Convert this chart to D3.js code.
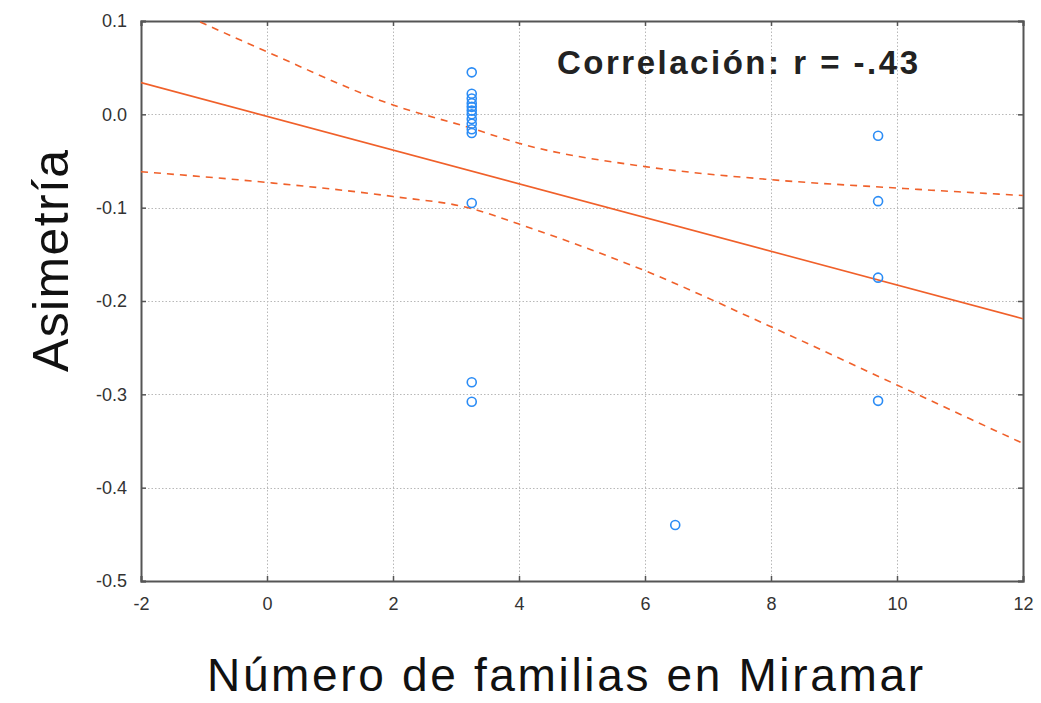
<!DOCTYPE html>
<html><head><meta charset="utf-8">
<script src="https://cdn.jsdelivr.net/npm/d3@7"></script>
<style>body{margin:0;background:#fff}svg{display:block}</style>
</head><body><svg id="c" width="1041" height="703"></svg>
<script>
// ---- data ----
const xTicks = [-2, 0, 2, 4, 6, 8, 10, 12];
const yTicks = [0.1, 0.0, -0.1, -0.2, -0.3, -0.4, -0.5];
const pointX = [3.25, 3.25, 3.25, 3.25, 3.25, 3.25, 3.25, 3.25, 3.25, 3.25, 3.25, 3.25, 3.25, 3.25,
                6.48, 9.70, 9.70, 9.70, 9.70];
const pointY = [0.045, 0.022, 0.017, 0.012, 0.008, 0.004, 0.0, -0.005, -0.010, -0.016, -0.020,
                -0.095, -0.287, -0.308,
                -0.440, -0.023, -0.093, -0.175, -0.307];
const fitX = [-2, 12];
const fitY = [0.034, -0.219];
const bandX = [-2, 0, 2, 3.25, 4, 6, 8, 10, 12];
const upperY = [0.128, 0.067, 0.010, -0.015, -0.031, -0.056, -0.070, -0.079, -0.087];
const lowerY = [-0.0615, -0.073, -0.088, -0.101, -0.1176, -0.1676, -0.2276, -0.290, -0.3526];
const corrLabel = "Correlación: r = -.43";
const xTitle = "Número de familias en Miramar";
const yTitle = "Asimetría";

// ---- layout ----
const svg = d3.select("#c");
const L = 141, R = 1023, T = 21, B = 581;
const x = d3.scaleLinear().domain([-2, 12]).range([L, R]);
const y = d3.scaleLinear().domain([-0.5, 0.1]).range([B, T]);
const orange = "#f0602a", blue = "#2b8cf5";
const fmtY = v => (v < 0 ? "-" : "") + Math.abs(v).toFixed(1);

svg.append("defs").append("clipPath").attr("id", "clip")
  .append("rect").attr("x", L).attr("y", T).attr("width", R - L).attr("height", B - T);

// grid
const grid = svg.append("g").attr("stroke", "#b8b8b8").attr("stroke-width", 1).attr("stroke-dasharray", "1.5,2");
grid.selectAll(".gx").data(xTicks.slice(1, -1)).join("line")
  .attr("x1", d => Math.round(x(d)) + 0.5).attr("x2", d => Math.round(x(d)) + 0.5)
  .attr("y1", T).attr("y2", B);
grid.selectAll(".gy").data(yTicks.slice(1, -1)).join("line")
  .attr("y1", d => Math.round(y(d)) + 0.5).attr("y2", d => Math.round(y(d)) + 0.5)
  .attr("x1", L).attr("x2", R);

// axes
const axB = svg.append("g").attr("transform", `translate(0,${B})`)
  .call(d3.axisBottom(x).tickValues(xTicks).tickSize(-5).tickPadding(16).tickFormat(d => String(d)));
const axL = svg.append("g").attr("transform", `translate(${L},0)`)
  .call(d3.axisLeft(y).tickValues(yTicks).tickSize(-5).tickPadding(14).tickFormat(fmtY));
const axT = svg.append("g").attr("transform", `translate(0,${T})`)
  .call(d3.axisTop(x).tickValues(xTicks).tickSize(-5).tickFormat(""));
const axR = svg.append("g").attr("transform", `translate(${R},0)`)
  .call(d3.axisRight(y).tickValues(yTicks).tickSize(-5).tickFormat(""));
[axB, axL, axT, axR].forEach(a => {
  a.select(".domain").attr("stroke", "#555").attr("stroke-width", 2);
  a.selectAll(".tick line").attr("stroke", "#555").attr("stroke-width", 1.5);
  a.selectAll("text").attr("fill", "#333").style("font-size", "18px");
});
axB.selectAll("text").style("font-family", "'Liberation Sans Narrow', 'Liberation Sans', Arial, sans-serif");
axL.selectAll("text").style("font-family", "'Liberation Sans', Arial, sans-serif");

// lines
const plot = svg.append("g").attr("clip-path", "url(#clip)");
const line = d3.line().x(d => x(d[0])).y(d => y(d[1])).curve(d3.curveMonotoneX);
plot.append("path").datum(d3.zip(fitX, fitY)).attr("d", line)
  .attr("fill", "none").attr("stroke", orange).attr("stroke-width", 1.6);
[upperY, lowerY].forEach(arr => {
  plot.append("path").datum(d3.zip(bandX, arr)).attr("d", line)
    .attr("fill", "none").attr("stroke", orange).attr("stroke-width", 1.6)
    .attr("stroke-dasharray", "7,6");
});

// points
plot.selectAll("circle").data(d3.zip(pointX, pointY)).join("circle")
  .attr("cx", d => x(d[0])).attr("cy", d => y(d[1])).attr("r", 4.5)
  .attr("fill", "none").attr("stroke", blue).attr("stroke-width", 1.6);

// texts
svg.append("text").attr("x", 557).attr("y", 74)
  .attr("textLength", 361).attr("lengthAdjust", "spacing")
  .style("font-family", "'Liberation Sans', Arial, sans-serif").style("font-weight", "bold")
  .style("font-size", "33px").attr("fill", "#222").text(corrLabel);
svg.append("text").attr("x", 207).attr("y", 691)
  .attr("textLength", 716).attr("lengthAdjust", "spacing")
  .style("font-family", "'Liberation Sans', Arial, sans-serif")
  .style("font-size", "46px").attr("fill", "#111").text(xTitle);
svg.append("text").attr("transform", "translate(68,372) rotate(-90)")
  .attr("textLength", 222).attr("lengthAdjust", "spacing")
  .style("font-family", "'Liberation Sans', Arial, sans-serif")
  .style("font-size", "50px").attr("fill", "#111").text(yTitle);
</script></body></html>
